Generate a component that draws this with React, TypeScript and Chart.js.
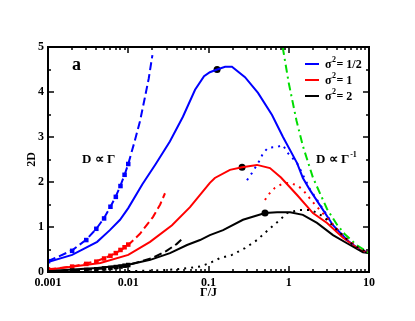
import React, { useEffect, useRef } from 'react';
import { Chart, registerables } from 'chart.js';
Chart.register(...registerables);

type P = [number, number];

const X_TICKS = [0.001, 0.01, 0.1, 1, 10];
const X_TICK_LABELS = ['0.001', '0.01', '0.1', '1', '10'];
const Y_TICKS = [0, 1, 2, 3, 4, 5];

const BLUE_SOLID: P[] = [
  [0.001, 0.22], [0.002, 0.38], [0.0041, 0.67], [0.0059, 0.93], [0.0079, 1.16], [0.01, 1.42],
  [0.015, 1.95], [0.022, 2.4], [0.033, 2.9], [0.048, 3.45], [0.068, 4.05],
  [0.088, 4.35], [0.104, 4.44], [0.128, 4.5], [0.161, 4.56], [0.196, 4.56], [0.285, 4.33],
  [0.414, 3.98], [0.619, 3.49], [0.848, 3.0], [1.27, 2.42], [1.5, 2.09], [1.84, 1.82],
  [2.67, 1.38], [3.56, 1.04], [5.32, 0.71], [7.73, 0.49], [10, 0.42],
];
const RED_SOLID: P[] = [
  [0.001, 0.05], [0.0045, 0.2], [0.01, 0.38], [0.0187, 0.67], [0.0351, 1.04], [0.0588, 1.44],
  [0.104, 1.98], [0.12, 2.09], [0.185, 2.27], [0.262, 2.33], [0.402, 2.38], [0.583, 2.31],
  [0.8, 2.1], [1.27, 1.71], [2.0, 1.31], [3.0, 1.09], [4.75, 0.76], [7.73, 0.49], [10, 0.42],
];
const BLACK_SOLID: P[] = [
  [0.001, 0.02], [0.0041, 0.09], [0.01, 0.16], [0.0188, 0.27], [0.0331, 0.42], [0.054, 0.6],
  [0.0784, 0.71], [0.104, 0.82], [0.152, 0.93], [0.269, 1.16], [0.506, 1.31], [0.715, 1.33],
  [1.04, 1.33], [1.5, 1.27], [2.25, 1.09], [3.56, 0.82], [5.8, 0.6], [8.4, 0.44], [10, 0.42],
];
const BLUE_DASHED: P[] = [
  [0.001, 0.24], [0.002, 0.48], [0.003, 0.72], [0.004, 0.96], [0.005, 1.2], [0.006, 1.45],
  [0.007, 1.68], [0.008, 1.92], [0.009, 2.16], [0.01, 2.4], [0.012, 2.9], [0.014, 3.35],
  [0.016, 3.85], [0.018, 4.3], [0.02, 4.82],
];
const RED_DASHED: P[] = [
  [0.001, 0.06], [0.002, 0.12], [0.004, 0.24], [0.006, 0.36], [0.008, 0.48], [0.01, 0.6],
  [0.014, 0.85], [0.0203, 1.22], [0.025, 1.5], [0.0287, 1.75],
];
const BLACK_DASHED: P[] = [
  [0.001, 0.015], [0.003, 0.045], [0.005, 0.08], [0.01, 0.155], [0.02, 0.31], [0.03, 0.47],
  [0.04, 0.62], [0.048, 0.75],
];
const BLUE_SQUARES: P[] = [
  [0.001, 0.24], [0.002, 0.47], [0.003, 0.71], [0.004, 0.96], [0.005, 1.19], [0.006, 1.45],
  [0.007, 1.67], [0.008, 1.91], [0.009, 2.16], [0.01, 2.4],
];
const RED_SQUARES: P[] = [
  [0.001, 0.06], [0.002, 0.12], [0.003, 0.18], [0.004, 0.23], [0.005, 0.3], [0.006, 0.36],
  [0.007, 0.42], [0.008, 0.49], [0.009, 0.55], [0.01, 0.61],
];
const BLACK_SQUARES: P[] = [
  [0.001, 0.015], [0.002, 0.03], [0.003, 0.045], [0.004, 0.06], [0.005, 0.08], [0.006, 0.09],
  [0.007, 0.11], [0.008, 0.12], [0.009, 0.14], [0.01, 0.155],
];
const BLUE_DOTTED: P[] = [
  [0.302, 2.04], [0.348, 2.2], [0.438, 2.49], [0.478, 2.64], [0.551, 2.76], [0.715, 2.78],
  [0.848, 2.82], [0.979, 2.64], [1.27, 2.42], [1.84, 1.84], [2.67, 1.4], [3.56, 1.05],
  [5.32, 0.72], [7.73, 0.5], [10, 0.42],
];
const RED_DOTTED: P[] = [
  [0.506, 1.6], [0.551, 1.71], [0.673, 1.87], [0.826, 1.96], [0.979, 1.98], [1.27, 1.93],
  [1.51, 1.82], [2.0, 1.55], [3.0, 1.2], [4.75, 0.8], [7.73, 0.5], [10, 0.42],
];
const BLACK_DOTTED: P[] = [
  [0.01, 0.02], [0.02, 0.03], [0.04, 0.06], [0.0784, 0.12], [0.104, 0.2], [0.139, 0.31],
  [0.196, 0.38], [0.285, 0.53], [0.402, 0.71], [0.551, 0.93], [0.779, 1.16], [0.95, 1.31],
  [1.38, 1.38], [1.84, 1.38], [2.31, 1.31], [2.83, 1.2], [4.35, 0.87], [6.32, 0.6], [10, 0.42],
];
const GREEN_DASHDOT: P[] = [
  [0.84, 5.0], [1, 4.2], [1.25, 3.36], [1.5, 2.8], [2, 2.1], [3, 1.4], [4, 1.05], [5, 0.84],
  [7, 0.6], [10, 0.42],
];
const PEAK_DOTS: P[] = [[0.128, 4.5], [0.262, 2.33], [0.506, 1.31]];

const LEGEND_LABELS = ['1/2', '1', '2'];
const BLUE = '#0000ff';
const RED = '#ff0000';
const BLACK = '#000000';
const GREEN = '#00dd00';
const LEGEND_COLORS = [BLUE, RED, BLACK];
const SERIF = "'Liberation Serif', 'Times New Roman', serif";

const toXY = (a: P[]) => a.map(([x, y]) => ({ x, y }));

const lineDs = (data: P[], color: string, dash: number[] = []) => ({
  data: toXY(data),
  borderColor: color,
  backgroundColor: color,
  borderWidth: 2,
  borderDash: dash,
  pointRadius: 0,
  showLine: true,
  tension: 0,
  fill: false,
});
const markDs = (data: P[], color: string, style: string, r: number) => ({
  data: toXY(data),
  borderColor: color,
  backgroundColor: color,
  borderWidth: 0,
  pointStyle: style,
  pointRadius: r,
  showLine: false,
});

const framePlugin = {
  id: 'frame',
  afterDatasetsDraw(chart: any) {
    const { ctx, chartArea, scales } = chart;
    const { left, right, top, bottom } = chartArea;
    const xs = scales.x;
    const ys = scales.y;
    ctx.save();
    ctx.strokeStyle = '#000';
    ctx.lineWidth = 2;
    ctx.strokeRect(left, top, right - left, bottom - top);
    ctx.lineWidth = 1.5;
    const seg = (x1: number, y1: number, x2: number, y2: number) => {
      ctx.beginPath();
      ctx.moveTo(x1, y1);
      ctx.lineTo(x2, y2);
      ctx.stroke();
    };
    for (let e = -3; e <= 1; e++) {
      for (let k = 1; k <= 9; k++) {
        const v = k * Math.pow(10, e);
        if (v > 10.0001) break;
        const px = Math.round(xs.getPixelForValue(v));
        const len = k === 1 ? 6 : 3;
        seg(px, bottom, px, bottom - len);
        seg(px, top, px, top + len);
      }
    }
    for (let v = 0; v <= 5; v += 0.5) {
      const py = Math.round(ys.getPixelForValue(v));
      const len = Number.isInteger(v) ? 6 : 3;
      seg(left, py, left + len, py);
      seg(right, py, right - len, py);
    }
    ctx.restore();
  },
  afterDraw(chart: any) {
    const { ctx } = chart;
    ctx.save();
    ctx.fillStyle = '#000';
    ctx.textBaseline = 'alphabetic';
    ctx.textAlign = 'left';
    ctx.font = `bold 18px ${SERIF}`;
    ctx.fillText('a', 72, 70);
    ctx.font = `bold 13px ${SERIF}`;
    ctx.fillText('D \u221D \u0393', 82, 163);
    ctx.fillText('D \u221D \u0393', 316, 163);
    const w = ctx.measureText('D \u221D \u0393').width;
    ctx.font = `bold 8px ${SERIF}`;
    ctx.fillText('-1', 316 + w + 1, 157);
    const rows = [64, 80, 96];
    rows.forEach((ry, i) => {
      ctx.strokeStyle = LEGEND_COLORS[i];
      ctx.lineWidth = 2;
      ctx.beginPath();
      ctx.moveTo(305, ry);
      ctx.lineTo(319, ry);
      ctx.stroke();
      ctx.fillStyle = '#000';
      ctx.font = `bold 12px ${SERIF}`;
      ctx.fillText('\u03C3', 325, ry + 4);
      const sw = ctx.measureText('\u03C3').width;
      ctx.font = `bold 8px ${SERIF}`;
      ctx.fillText('2', 325 + sw + 0.5, ry - 2);
      const s2 = ctx.measureText('2').width;
      ctx.font = `bold 12px ${SERIF}`;
      ctx.fillText('= ' + LEGEND_LABELS[i], 325 + sw + s2 + 1, ry + 4);
    });
    ctx.restore();
  },
};

export default function App() {
  const ref = useRef<HTMLCanvasElement | null>(null);
  useEffect(() => {
    if (!ref.current) return;
    const chart = new Chart(ref.current, {
      type: 'scatter',
      data: {
        datasets: [
          lineDs(BLACK_DOTTED, BLACK, [2, 5]),
          lineDs(RED_DOTTED, RED, [2, 5]),
          lineDs(BLUE_DOTTED, BLUE, [2, 5]),
          lineDs(BLACK_DASHED, BLACK, [8, 4]),
          lineDs(RED_DASHED, RED, [8, 4]),
          lineDs(BLUE_DASHED, BLUE, [8, 4]),
          lineDs(GREEN_DASHDOT, GREEN, [8, 4, 2, 4]),
          lineDs(BLACK_SOLID, BLACK),
          lineDs(RED_SOLID, RED),
          lineDs(BLUE_SOLID, BLUE),
          markDs(BLACK_SQUARES, BLACK, 'rect', 3.2),
          markDs(RED_SQUARES, RED, 'rect', 3.2),
          markDs(BLUE_SQUARES, BLUE, 'rect', 3.2),
          markDs(PEAK_DOTS, BLACK, 'circle', 3.5),
        ] as any,
      },
      options: {
        responsive: false,
        animation: false,
        devicePixelRatio: 1,
        layout: { padding: { left: 0, right: 46, top: 47, bottom: 0 } },
        plugins: { legend: { display: false }, tooltip: { enabled: false } },
        scales: {
          x: {
            type: 'logarithmic',
            min: 0.001,
            max: 10,
            grid: { display: false, drawTicks: false },
            border: { display: false },
            afterBuildTicks: (s: any) => {
              s.ticks = X_TICKS.map((v) => ({ value: v }));
            },
            afterFit: (s: any) => {
              s.height = 49;
            },
            ticks: {
              autoSkip: false,
              maxRotation: 0,
              padding: 4,
              color: '#000',
              font: { family: SERIF, size: 12, weight: 'bold' },
              callback: (v: any) => {
                const i = X_TICKS.findIndex((t) => Math.abs(t - v) < t * 1e-6);
                return i >= 0 ? X_TICK_LABELS[i] : '';
              },
            },
            title: {
              display: true,
              text: '\u0393/J',
              color: '#000',
              font: { family: SERIF, size: 12, weight: 'bold' },
              padding: { top: 0, bottom: 21 },
            },
          },
          y: {
            type: 'linear',
            min: 0,
            max: 5,
            grid: { display: false, drawTicks: false },
            border: { display: false },
            afterBuildTicks: (s: any) => {
              s.ticks = Y_TICKS.map((v) => ({ value: v }));
            },
            afterFit: (s: any) => {
              s.width = 48;
            },
            ticks: {
              padding: 4,
              color: '#000',
              font: { family: SERIF, size: 12, weight: 'bold' },
              callback: (v: any) => String(v),
            },
            title: {
              display: true,
              text: '2D',
              color: '#000',
              font: { family: SERIF, size: 12, weight: 'bold' },
              padding: { top: 25, bottom: 0 },
            },
          },
        },
      } as any,
      plugins: [framePlugin],
    });
    return () => chart.destroy();
  }, []);
  return (
    <div style={{ position: 'fixed', left: 0, top: 0, width: 415, height: 321, background: '#fff' }}>
      <canvas ref={ref} width={415} height={321} style={{ width: 415, height: 321, display: 'block' }} />
    </div>
  );
}
